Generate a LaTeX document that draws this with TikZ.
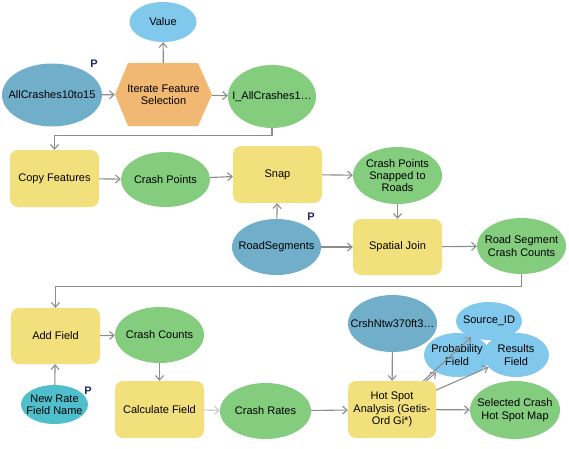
\documentclass[tikz,border=0pt]{standalone}
\usepackage{fontspec}
\setmainfont{Liberation Sans}
\usetikzlibrary{shapes.geometric,arrows.meta}
\definecolor{toolfill}{HTML}{F2E07C}
\definecolor{outfill}{HTML}{84CC7E}
\definecolor{infill}{HTML}{71AECA}
\definecolor{valfill}{HTML}{80C8EC}
\definecolor{parfill}{HTML}{4FBFCC}
\definecolor{iterfill}{HTML}{F0B872}
\definecolor{linkgray}{HTML}{8C8C8C}
\definecolor{ptagblue}{HTML}{1C2B5E}

\begin{document}
\begin{tikzpicture}[x=1pt,y=-1pt,
        font=\fontsize{11}{12.3}\selectfont,
        >={Straight Barb[length=4.5pt,width=8pt]},
        tool/.style={rectangle,rounded corners=8pt,fill=toolfill,
            minimum width=89pt,minimum height=57pt,inner sep=0pt,align=center},
        oval/.style={ellipse,inner xsep=-12pt,inner ysep=0pt,align=center,
            minimum width=89pt,minimum height=56pt},
        outdata/.style={oval,fill=outfill},
        indata/.style={oval,fill=infill},
        value/.style={oval,fill=valfill,minimum width=67pt,minimum height=40pt},
        param/.style={oval,fill=parfill,minimum width=67pt,minimum height=39pt},
        link/.style={->,draw=linkgray,line width=1.1pt},
        ptag/.style={font=\fontsize{11}{12}\selectfont\bfseries,text=ptagblue,inner sep=0pt}]
    \useasboundingbox (0,0) rectangle (569,448);

    % iterator row
    \node[value] (value) at (163,22) {Value};
    \node[indata,minimum width=100pt,minimum height=63pt] (allcr) at (52,95) {AllCrashes10to15};
    \node[ptag] (p1) at (94,64) {P};
    \fill[iterfill] (115,94.5) -- (128,63) -- (198,63) -- (212,94.5) -- (198,126) -- (128,126) -- cycle;
    \node[minimum width=97pt,minimum height=63pt,inner sep=0pt,align=center] (iter) at (163.5,94.5) {Iterate Feature\\Selection};
    \node[outdata,minimum width=88pt,minimum height=63pt] (iall) at (272,96.5) {I\_AllCrashes1\dots};

    % snapping
    \node[tool] (copy) at (54.5,178.5) {Copy Features};
    \node[outdata,minimum height=55pt] (cpts) at (165.5,179.5) {Crash Points};
    \node[tool] (snap) at (277.5,174.5) {Snap};
    \node[outdata,minimum height=57pt] (snapped) at (397.5,175.5) {Crash Points\\Snapped to\\Roads};
    \node[indata] (roads) at (276.5,247) {RoadSegments};
    \node[ptag] (p2) at (311,217) {P};
    \node[tool,minimum height=56pt] (sjoin) at (397.5,247) {Spatial Join};
    \node[outdata] (rscc) at (521.5,246) {Road Segment\\Crash Counts};

    % rates and hot spots
    \node[tool,minimum height=56pt] (addf) at (55.5,336) {Add Field};
    \node[outdata] (ccount) at (159.5,335) {Crash Counts};
    \node[param] (newrate) at (54.5,404.5) {New Rate\\Field Name};
    \node[ptag] (p3) at (88,391) {P};
    \node[tool] (calc) at (159.5,409.5) {Calculate Field};
    \node[outdata,minimum width=91pt] (crates) at (265.5,411) {Crash Rates};
    \node[indata,minimum height=57pt] (crsh) at (392.5,323.5) {CrshNtw370ft3\dots};
    \node[tool,minimum width=88pt] (hot) at (392,409.5) {Hot Spot\\Analysis (Getis-\\Ord Gi*)};
    \node[value,minimum width=66pt,minimum height=38pt] (srcid) at (489,321) {Source\_ID};
    \node[value,minimum width=66pt,minimum height=44pt] (prob) at (457,355) {Probability\\Field};
    \node[value,minimum width=66pt,minimum height=44pt] (res) at (516,355) {Results\\Field};
    \node[outdata,minimum width=90pt,minimum height=58pt] (selmap) at (515,410) {Selected Crash\\Hot Spot Map};

    \draw[link] (allcr) -- (iter);
    \draw[link] (iter) -- (value);
    \draw[link] (iter) -- (iall);
    \draw[link] (iall.south) -- ++(0,7) -| (copy.north);
    \draw[link] (copy) -- (cpts);
    \draw[link] (cpts) -- (snap);
    \draw[link] (snap) -- (snapped);
    \draw[link] (roads) -- (snap);
    \draw[link] (snapped) -- (sjoin);
    \draw[link] (roads) -- (sjoin);
    \draw[link] (sjoin) -- (rscc);
    \draw[link] (rscc.south) -- ++(0,12) -| (addf.north);
    \draw[link] (addf) -- (ccount);
    \draw[link] (newrate) -- (addf);
    \draw[link] (ccount) -- (calc);
    \draw[link,draw=linkgray!45] (calc) -- (crates);
    \draw[link] (crates) -- (hot);
    \draw[link] (crsh) -- (hot);
    \draw[link] (hot) -- (prob);
    \draw[link] (hot) -- (srcid);
    \draw[link] (hot) -- (res);
    \draw[link] (hot) -- (selmap);
\end{tikzpicture}
\end{document}
